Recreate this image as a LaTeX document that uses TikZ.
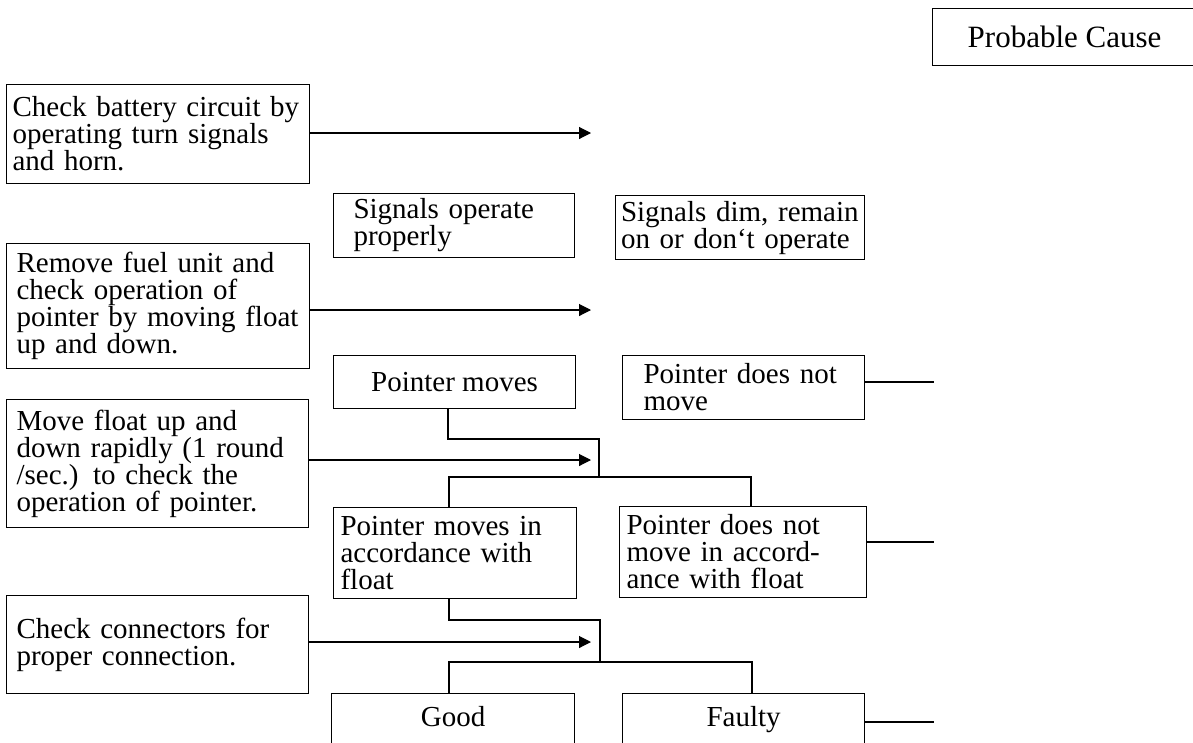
\documentclass[tikz,border=0pt]{standalone}
\usepackage{fontspec}
\setmainfont{Liberation Serif}
\usetikzlibrary{arrows.meta}
\tikzset{
  stepbox/.style={draw, line width=1.1pt, anchor=north west, inner sep=0pt, align=left,
    font=\fontsize{29}{27}\selectfont},
  headbox/.style={draw, line width=1.1pt, anchor=north west, inner sep=0pt, align=center,
    font=\fontsize{31}{30}\selectfont},
  flowarrow/.style={line width=1.1pt, -{Triangle[length=12pt, width=12pt]}},
  flowline/.style={line width=1.1pt}
}
\begin{document}
\begin{tikzpicture}[x=1pt, y=-1pt]
  \useasboundingbox (0,0) rectangle (1193,742);

  \node[headbox, minimum width=264, minimum height=57] (cause) at (932,8) {Probable Cause};

  \node[stepbox, minimum width=303, minimum height=99, text width=291] (chk1) at (6,84)
    {Check battery circuit by\\operating turn signals\\and horn.};
  \node[stepbox, minimum width=303, minimum height=125, text width=283] (chk2) at (6,243)
    {Remove fuel unit and\\check operation of\\pointer by moving float\\up and down.};
  \node[stepbox, minimum width=302, minimum height=128, text width=282] (chk3) at (6,399)
    {Move float up and\\down rapidly (1 round\\/sec.) to check the\\operation of pointer.};
  \node[stepbox, minimum width=302, minimum height=98, text width=282] (chk4) at (6,595)
    {Check connectors for\\proper connection.};

  \node[stepbox, minimum width=241, minimum height=64, text width=201] (sigok) at (333,193)
    {Signals operate\\properly};
  \node[stepbox, minimum width=249, minimum height=64, text width=238] (sigbad) at (615,195)
    {Signals dim, remain\\on or don`t operate};
  \node[stepbox, minimum width=242, minimum height=53, align=center] (ptrmv) at (333,355)
    {Pointer moves};
  \node[stepbox, minimum width=242, minimum height=64, text width=200] (ptrno) at (622,355)
    {Pointer does not\\move};
  \node[stepbox, minimum width=243, minimum height=91, text width=229] (accok) at (333,507)
    {Pointer moves in\\accordance with\\float};
  \node[stepbox, minimum width=247, minimum height=91, text width=233] (accno) at (619,506)
    {Pointer does not\\move in accord-\\ance with float};
  \node[stepbox, minimum width=243, minimum height=96, align=center, text height=20, text depth=50] (good) at (331,693)
    {Good};
  \node[stepbox, minimum width=242, minimum height=96, align=center, text height=20, text depth=50] (faulty) at (622,693)
    {Faulty};

  \coordinate (tip1) at (591,133);
  \coordinate (tip2) at (591,310);
  \coordinate (tip3) at (591,460);
  \coordinate (tip4) at (591,642);
  \draw[flowarrow] (chk1.east |- tip1) -- (tip1);
  \draw[flowarrow] (chk2.east |- tip2) -- (tip2);
  \draw[flowarrow] (chk3.east |- tip3) -- (tip3);
  \draw[flowarrow] (chk4.east |- tip4) -- (tip4);

  \coordinate (out1) at (934,382);
  \coordinate (out2) at (934,542);
  \coordinate (out3) at (934,722);
  \draw[flowline] (ptrno.east |- out1) -- (out1);
  \draw[flowline] (accno.east |- out2) -- (out2);
  \draw[flowline] (faulty.east |- out3) -- (out3);

  \coordinate (j1) at (448,439);
  \coordinate (j2) at (599,439);
  \coordinate (s1) at (449,477);
  \coordinate (s2) at (751,477);
  \draw[flowline] (ptrmv.south -| j1) -- (j1) -- (j2) -- (j2 |- s1);
  \draw[flowline] (accok.north -| s1) -- (s1) -- (s2) -- (accno.north -| s2);

  \coordinate (j3) at (449,620);
  \coordinate (j4) at (600,620);
  \coordinate (s3) at (449,662);
  \coordinate (s4) at (752,662);
  \draw[flowline] (accok.south -| j3) -- (j3) -- (j4) -- (j4 |- s3);
  \draw[flowline] (good.north -| s3) -- (s3) -- (s4) -- (faulty.north -| s4);
\end{tikzpicture}
\end{document}
